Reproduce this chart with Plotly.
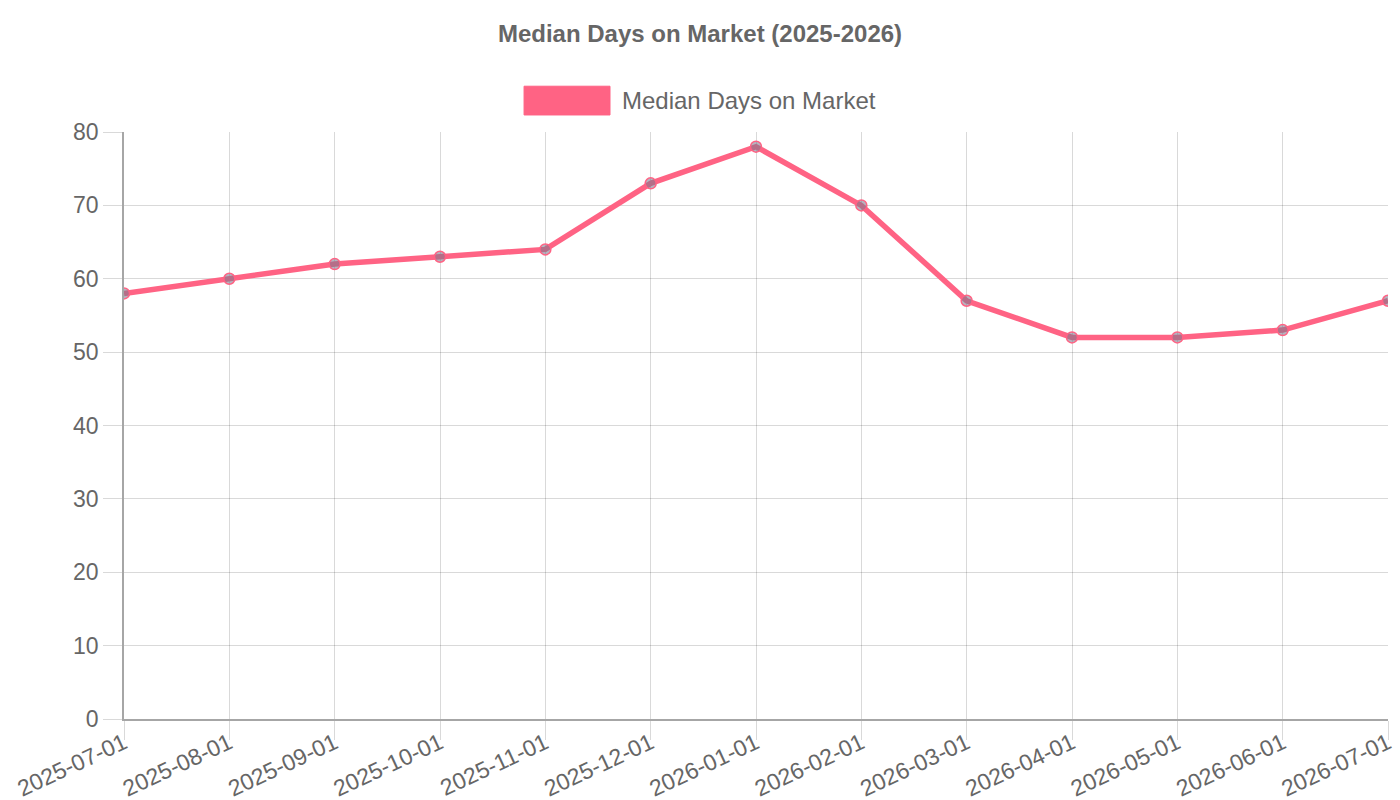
import plotly.graph_objects as go

# data
months = ['2025-07-01', '2025-08-01', '2025-09-01', '2025-10-01', '2025-11-01',
          '2025-12-01', '2026-01-01', '2026-02-01', '2026-03-01', '2026-04-01',
          '2026-05-01', '2026-06-01', '2026-07-01']
median_days = [58, 60, 62, 63, 64, 73, 78, 70, 57, 52, 52, 53, 57]
y_ticks = [0, 10, 20, 30, 40, 50, 60, 70, 80]

pink = 'rgb(255, 99, 132)'
grid = 'rgba(0,0,0,0.15)'
axis_line = 'rgba(0,0,0,0.35)'
font = 'Liberation Sans, Arial, sans-serif'

fig = go.Figure()
fig.add_trace(go.Scatter(
    x=months,
    y=median_days,
    mode='lines+markers',
    name='Median Days on Market',
    line=dict(color=pink, width=5.5),
    marker=dict(size=11, color='rgba(120,120,140,0.55)',
                line=dict(color=pink, width=1.5)),
    showlegend=False,
))

fig.update_layout(
    width=1400,
    height=800,
    margin=dict(l=124, r=12, t=132, b=81),
    paper_bgcolor='white',
    plot_bgcolor='white',
    font=dict(family=font, color='#666', size=23),
    title=dict(text='<b>Median Days on Market (2025-2026)</b>',
               x=0.5, xanchor='center', y=0.9575, yanchor='middle',
               font=dict(size=24, color='#666')),
    xaxis=dict(
        type='category',
        range=[0, len(months) - 1],
        automargin=False,
        showgrid=True, gridcolor=grid, gridwidth=1,
        showline=True, linecolor=axis_line, linewidth=1.5,
        ticks='outside', ticklen=19, tickcolor=grid,
        tickangle=-25, ticklabelstandoff=-19,
        tickfont=dict(size=23, color='#666'),
    ),
    yaxis=dict(
        range=[0, 80],
        tickvals=y_ticks,
        automargin=False,
        showgrid=True, gridcolor=grid, gridwidth=1,
        zeroline=False,
        showline=True, linecolor=axis_line, linewidth=1.5,
        ticks='outside', ticklen=19, tickcolor=grid,
        tickfont=dict(size=23, color='#666'),
    ),
)

# legend box drawn like Chart.js
fig.add_shape(type='rect', xref='paper', yref='paper',
              x0=0.3165, x1=0.3845, y0=1.029, y1=1.078,
              fillcolor=pink, line=dict(color=pink, width=1))
fig.add_annotation(xref='paper', yref='paper', x=0.3924, y=1.0545,
                   xanchor='left', yanchor='middle', showarrow=False,
                   text='Median Days on Market',
                   font=dict(size=24, color='#666'))

# drop the default body margin so the figure fills the window
fig.write_html('out.html', config={'displayModeBar': False},
               post_script="document.body.style.margin='0';")
